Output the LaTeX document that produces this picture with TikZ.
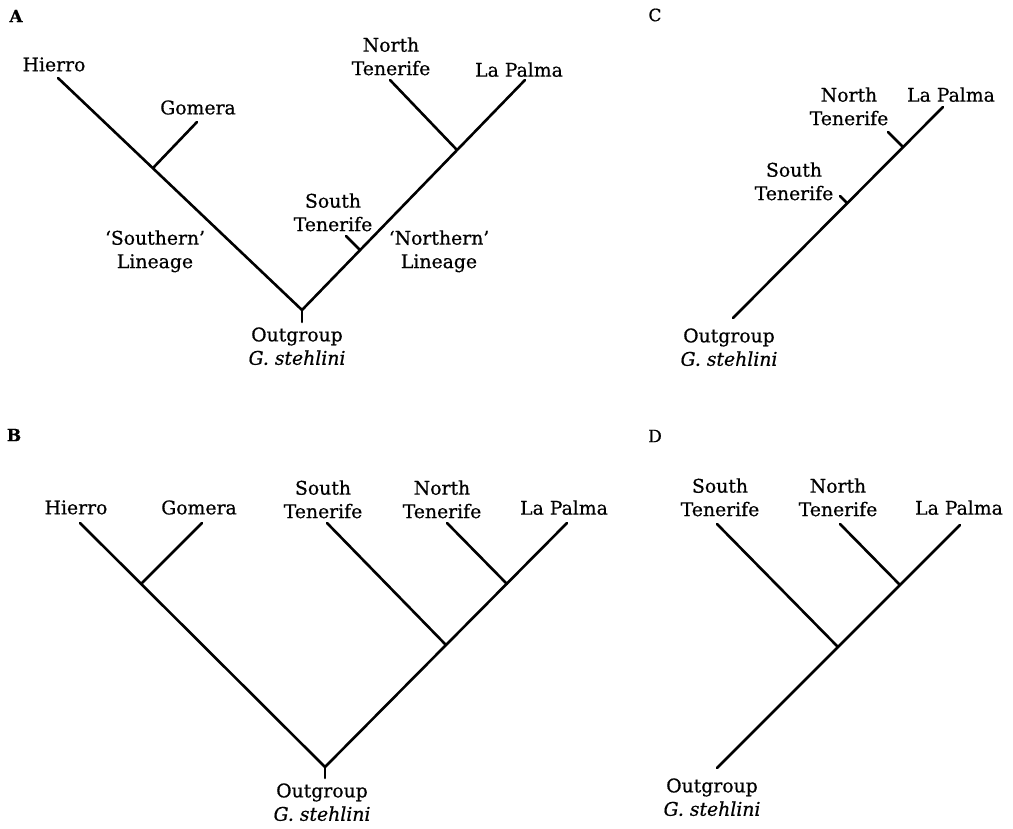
\documentclass[tikz,border=0pt]{standalone}
\usepackage{fontspec}
\setmainfont{DejaVu Serif}[FakeBold=0.6]
\tikzset{
  branch/.style={line width=1.3pt,line cap=round},
  taxon/.style={inner sep=0pt,anchor=north,align=center,
    font=\fontsize{9.4}{11.7}\selectfont},
  panel/.style={inner sep=0pt,font=\fontsize{8.5}{10}\selectfont},
}

\begin{document}
\begin{tikzpicture}[x=0.5pt,y=-0.5pt]
  \useasboundingbox (0,0) rectangle (1013,829);
  % panel letters and outgroups
  \foreach \p/\x/\y/\w in {A/16/16/\bfseries,B/14/435/\bfseries,C/655/15/,D/655/436/}
    \node[panel] (lab\p) at (\x,\y) {\w\p};
  \foreach \p/\x/\y in {a/297/327,b/322/783,c/729/328,d/712/778}
    \node[taxon] (\p-out-t) at (\x,\y) {Outgroup\\\textit{G. stehlini}};

  % A
  \foreach \n/\x/\y/\t in {hie/54/57/Hierro,gom/198/100/Gomera,nte/391/37/{North\\Tenerife},
      lpa/519/62/La Palma,ste/333/193/{South\\Tenerife},
      sli/155/230/{`Southern'\\Lineage},nli/439/230/{`Northern'\\Lineage}}
    \node[taxon] (a-\n-t) at (\x,\y) {\t};
  \coordinate (a-hie) at (58,78);
  \coordinate (a-gom) at (197,122);
  \coordinate (a-nte) at (390,80);
  \coordinate (a-lpa) at (525,80);
  \coordinate (a-ste) at (346,236);
  \coordinate (a-root) at (302,310);
  \coordinate (a-out) at (302,322);
  \coordinate (a-j1) at (153,168);
  \coordinate (a-j2) at (457,150);
  \coordinate (a-j3) at (360,250);
  \draw[branch] (a-hie) -- (a-root) -- (a-lpa);
  \draw[branch] (a-root) -- (a-out);
  \draw[branch] (a-gom) -- (a-j1);
  \draw[branch] (a-nte) -- (a-j2);
  \draw[branch] (a-ste) -- (a-j3);

  % C
  \foreach \n/\x/\y/\t in {lpa/951/87/La Palma,nte/849/87/{North\\Tenerife},
      ste/794/162/{South\\Tenerife}}
    \node[taxon] (c-\n-t) at (\x,\y) {\t};
  \coordinate (c-lpa) at (943,107);
  \coordinate (c-root) at (733,318);
  \coordinate (c-nte) at (888,132);
  \coordinate (c-ste) at (840,196);
  \coordinate (c-j1) at (903,147);
  \coordinate (c-j2) at (847,203);
  \draw[branch] (c-root) -- (c-lpa);
  \draw[branch] (c-nte) -- (c-j1);
  \draw[branch] (c-ste) -- (c-j2);

  % B
  \foreach \n/\x/\y/\t in {hie/76/500/Hierro,gom/199/500/Gomera,ste/323/480/{South\\Tenerife},
      nte/442/480/{North\\Tenerife},lpa/564/500/La Palma}
    \node[taxon] (b-\n-t) at (\x,\y) {\t};
  \coordinate (b-hie) at (80,523);
  \coordinate (b-gom) at (202,523);
  \coordinate (b-ste) at (327,523);
  \coordinate (b-nte) at (447,523);
  \coordinate (b-lpa) at (567,523);
  \coordinate (b-root) at (325,767);
  \coordinate (b-out) at (325,778);
  \coordinate (b-j1) at (141,584);
  \coordinate (b-j2) at (446,645);
  \coordinate (b-j3) at (507,584);
  \draw[branch] (b-hie) -- (b-root) -- (b-lpa);
  \draw[branch] (b-root) -- (b-out);
  \draw[branch] (b-gom) -- (b-j1);
  \draw[branch] (b-ste) -- (b-j2);
  \draw[branch] (b-nte) -- (b-j3);

  % D
  \foreach \n/\x/\y/\t in {ste/720/478/{South\\Tenerife},nte/838/478/{North\\Tenerife},
      lpa/959/500/La Palma}
    \node[taxon] (d-\n-t) at (\x,\y) {\t};
  \coordinate (d-ste) at (717,524);
  \coordinate (d-nte) at (840,524);
  \coordinate (d-lpa) at (960,525);
  \coordinate (d-root) at (717,768);
  \coordinate (d-j1) at (838,647);
  \coordinate (d-j2) at (900,585);
  \draw[branch] (d-root) -- (d-lpa);
  \draw[branch] (d-ste) -- (d-j1);
  \draw[branch] (d-nte) -- (d-j2);
\end{tikzpicture}
\end{document}
